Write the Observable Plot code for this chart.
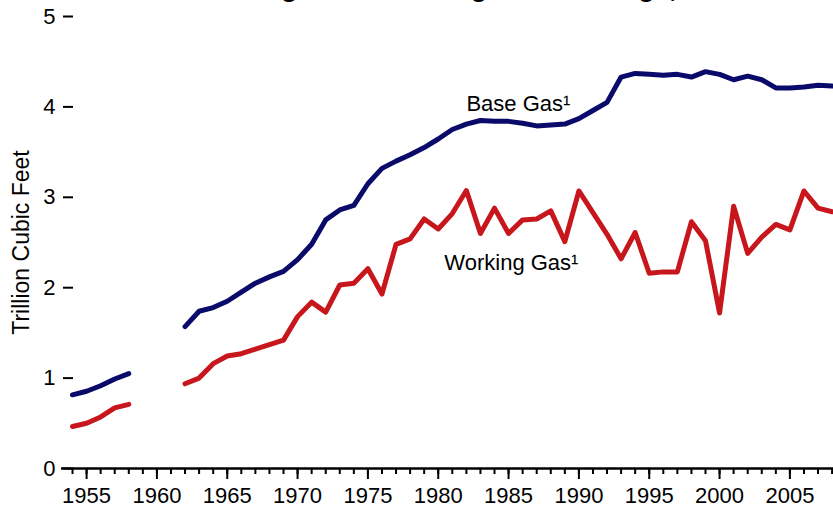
<!DOCTYPE html>
<html>
<head>
<meta charset="utf-8">
<script src="https://cdn.jsdelivr.net/npm/d3@7"></script>
<script src="https://cdn.jsdelivr.net/npm/@observablehq/plot@0.6"></script>
<style>
  html, body { margin: 0; padding: 0; background: #fff; overflow: hidden; }
  #wrap { position: relative; width: 833px; height: 507px; overflow: hidden; background: #fff; }
  #title { position: absolute; left: 7px; top: -24.6px; white-space: nowrap;
           font: bold 26.7px/1 "Liberation Sans", Arial, sans-serif; color: #000; z-index: 2; }
  #chart { position: absolute; left: 0; top: 0; }
</style>
</head>
<body>
<div id="wrap">
  <div id="title">Base Gas and Working Gas in Underground Storage, End of Year</div>
  <div id="chart"></div>
</div>
<script>
// Years (null values = no data, gap 1959–1961)
const years = [1954,1955,1956,1957,1958,1959,1960,1961,1962,1963,1964,1965,1966,1967,1968,1969,
  1970,1971,1972,1973,1974,1975,1976,1977,1978,1979,1980,1981,1982,1983,1984,1985,1986,1987,1988,1989,
  1990,1991,1992,1993,1994,1995,1996,1997,1998,1999,2000,2001,2002,2003,2004,2005,2006,2007,2008];

// Base gas, trillion cubic feet
const baseGas = [0.815,0.855,0.915,0.99,1.05,null,null,null,1.57,1.74,1.78,1.85,1.95,2.05,2.12,2.18,
  2.31,2.48,2.75,2.86,2.91,3.15,3.32,3.40,3.47,3.55,3.645,3.75,3.81,3.85,3.84,3.84,3.82,3.79,3.80,3.81,
  3.87,3.96,4.05,4.33,4.37,4.36,4.35,4.36,4.33,4.39,4.36,4.30,4.34,4.30,4.21,4.21,4.22,4.24,4.23];

// Working gas, trillion cubic feet
const workingGas = [0.465,0.50,0.57,0.67,0.71,null,null,null,0.937,1.00,1.16,1.245,1.27,1.32,1.37,1.42,
  1.68,1.84,1.73,2.03,2.05,2.21,1.93,2.48,2.54,2.76,2.65,2.82,3.075,2.60,2.88,2.60,2.75,2.76,2.85,2.51,
  3.07,2.83,2.59,2.32,2.61,2.16,2.175,2.175,2.73,2.52,1.72,2.90,2.38,2.56,2.70,2.64,3.07,2.88,2.84];

const majorTicks = [1955,1960,1965,1970,1975,1980,1985,1990,1995,2000,2005];
const yTicks = [0,1,2,3,4,5];

const seriesNames = ["Base Gas¹", "Working Gas¹"];
const labelYears = [1985.7, 1985.2];
const labelValues = [4.03, 2.27];

const baseData = years.map((yr, i) => ({year: yr, value: baseGas[i]}));
const workData = years.map((yr, i) => ({year: yr, value: workingGas[i]}));
const labels = seriesNames.map((t, i) => ({text: t, year: labelYears[i], value: labelValues[i]}));

const font = "'Liberation Sans', Arial, sans-serif";
const fs = 22;

const chart = Plot.plot({
  width: 833,
  height: 507,
  marginLeft: 73,
  marginRight: 0,
  marginTop: 16,
  marginBottom: 39,
  style: {fontFamily: font, fontSize: fs + "px", color: "#000", background: "transparent", overflow: "visible"},
  x: {type: "linear", domain: [1954.07, 2008.1]},
  y: {domain: [0, 5]},
  marks: [
    Plot.axisX({ticks: years, tickSize: 6, tickFormat: () => "", strokeWidth: 2, label: null}),
    Plot.axisX({ticks: majorTicks, tickSize: 11, tickPadding: 8, tickFormat: d => String(d),
                fontSize: fs, strokeWidth: 2, label: null}),
    Plot.axisY({ticks: yTicks, tickSize: 10, tickPadding: 8, tickFormat: d => String(d),
                fontSize: fs, strokeWidth: 2, label: null}),
    Plot.text(["Trillion Cubic Feet"], {frameAnchor: "left", textAnchor: "middle", rotate: -90, dx: -52,
                fontSize: 23, fill: "#000"}),
    Plot.ruleY([0], {stroke: "#000", strokeWidth: 2.5, insetLeft: -12}),
    Plot.line(baseData, {x: "year", y: "value", stroke: "#0a0a6a", strokeWidth: 5}),
    Plot.line(workData, {x: "year", y: "value", stroke: "#c8161d", strokeWidth: 5}),
    Plot.text(labels, {x: "year", y: "value", text: "text", fontSize: fs, fill: "#000"})
  ]
});
document.getElementById("chart").appendChild(chart);
</script>
</body>
</html>
